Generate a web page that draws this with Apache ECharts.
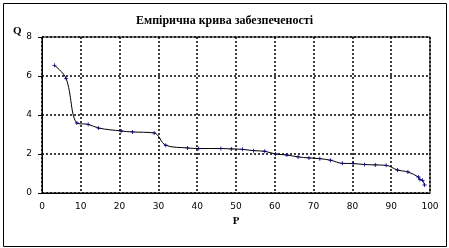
<!DOCTYPE html>
<html>
<head>
<meta charset="utf-8">
<script src="https://cdn.jsdelivr.net/npm/echarts@6/dist/echarts.min.js"></script>
<style>
html,body{margin:0;padding:0;background:#fff;}
#c{width:449px;height:248px;}
</style>
</head>
<body>
<div id="c"></div>
<script>
const titleText = 'Емпірична крива забезпеченості';
const xName = 'P';
const yName = 'Q';
const pValues = [3.2, 6.2, 9.0, 11.9, 14.6, 20.4, 23.3, 28.9, 31.9, 37.5, 40.4, 46.1, 48.8, 51.7, 54.5, 57.4, 60.2, 63.1, 66.0, 68.8, 71.6, 74.4, 77.4, 80.2, 83.1, 85.9, 88.7, 91.6, 94.3, 97.0, 97.4, 98.1, 98.6];
const qValues = [6.55, 5.88, 3.59, 3.52, 3.33, 3.18, 3.13, 3.08, 2.45, 2.31, 2.28, 2.28, 2.26, 2.24, 2.17, 2.14, 2.0, 1.95, 1.85, 1.80, 1.76, 1.68, 1.52, 1.51, 1.46, 1.44, 1.42, 1.18, 1.08, 0.82, 0.69, 0.65, 0.41];
const xTicks = {min: 0, max: 100, interval: 10};
const yTicks = {min: 0, max: 8, interval: 2};

const chart = echarts.init(document.getElementById('c'), null, {renderer: 'canvas'});
const gridLine = {show: true, lineStyle: {color: '#000', width: 1.5, type: [2, 2]}};
const labelFont = {fontFamily: 'DejaVu Sans', fontSize: 9, color: '#000'};
chart.setOption({
  animation: false,
  backgroundColor: '#fff',
  title: {
    text: titleText, left: 'center', top: 10,
    textStyle: {fontFamily: 'Liberation Serif', fontWeight: 'bold', fontSize: 12, color: '#000'}
  },
  graphic: [{
    type: 'rect', shape: {x: 3.5, y: 3.5, width: 443, height: 243},
    style: {fill: 'none', stroke: '#000', lineWidth: 1}, silent: true
  }, {
    type: 'text', left: 13, top: 26,
    style: {text: yName, font: 'bold 11px "Liberation Serif"', fill: '#000'}, silent: true
  }],
  grid: {left: 42, right: 19, top: 37, bottom: 55, show: true, borderColor: '#000', borderWidth: 1, backgroundColor: 'transparent'},
  xAxis: {
    type: 'value', min: xTicks.min, max: xTicks.max, interval: xTicks.interval,
    name: xName, nameLocation: 'middle', nameGap: 20,
    nameTextStyle: {fontFamily: 'Liberation Serif', fontWeight: 'bold', fontSize: 11, color: '#000'},
    axisLine: {show: true, lineStyle: {color: '#000', width: 1}},
    axisTick: {show: false},
    axisLabel: Object.assign({margin: 9}, labelFont),
    splitLine: gridLine
  },
  yAxis: {
    type: 'value', min: yTicks.min, max: yTicks.max, interval: yTicks.interval,
    axisLine: {show: true, lineStyle: {color: '#000', width: 1}},
    axisTick: {show: true, inside: false, length: 4, lineStyle: {color: '#000'}},
    axisLabel: Object.assign({margin: 10}, labelFont),
    splitLine: gridLine
  },
  series: [{
    type: 'line',
    data: pValues.map((p, i) => [p, qValues[i]]),
    smooth: 0.35,
    symbol: 'path://M2 0H3V2H5V3H3V5H2V3H0V2H2Z',
    symbolSize: 4,
    itemStyle: {color: '#000080'},
    lineStyle: {color: '#000', width: 1}
  }]
});
</script>
</body>
</html>
